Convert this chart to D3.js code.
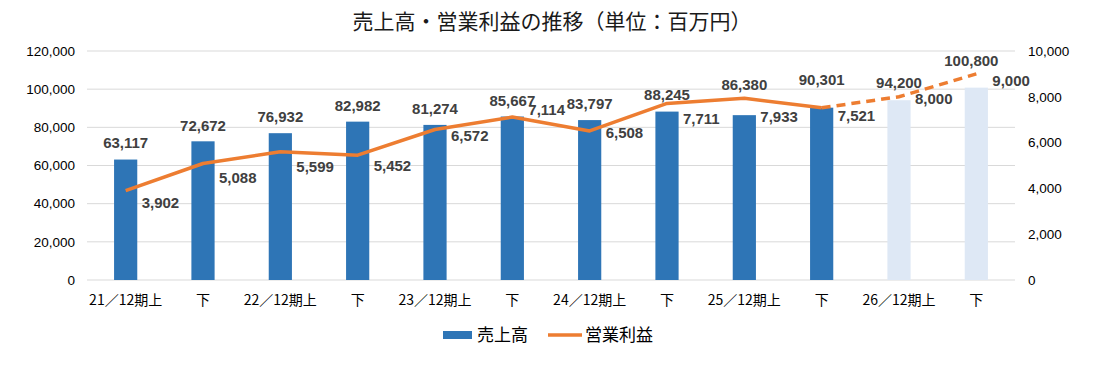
<!DOCTYPE html>
<html>
  <head>
    <meta charset="utf-8">
    <title>売上高・営業利益の推移</title>
    <script src="https://d3js.org/d3.v7.min.js"></script>
    <style>
      body { margin: 0; background: #fff; }
      text { font-family: "Liberation Sans", Arial, "Noto Sans CJK JP", sans-serif; }
      .cjk { font-family: "Noto Sans CJK JP", sans-serif; }
      .tick text { font-size: 13.5px; fill: #000; }
      .bar-label, .line-label { font-size: 15px; font-weight: bold; fill: #404040; }
    </style>
  </head>
  <body>
    <div id="chart"></div>
    <script>
      // Data
      const periods = ["21／12期上", "下", "22／12期上", "下", "23／12期上", "下",
                       "24／12期上", "下", "25／12期上", "下", "26／12期上", "下"];
      const sales = [63117, 72672, 76932, 82982, 81274, 85667, 83797, 88245, 86380, 90301, 94200, 100800];
      const profit = [3902, 5088, 5599, 5452, 6572, 7114, 6508, 7711, 7933, 7521, 8000, 9000];
      const isForecast = [false, false, false, false, false, false, false, false, false, false, true, true];
      const salesTicks = [0, 20000, 40000, 60000, 80000, 100000, 120000];
      const profitTicks = [0, 2000, 4000, 6000, 8000, 10000];

      // hand-placed label nudges (pixels), as in the original workbook
      const barLabelDy = [-17, -16, -16, -16, -16, -16, -16, -17, -30, -28, -17, -27];
      const barLabelDx = [0, 0, 0, 0, 0, 0, 0, 0, 0, 0, 0, -5];
      const profitLabelDy = [12, 14, 15, 11, 6, -7, 2, 15, 18, 8, 2, 7];

      const rows = periods.map((p, i) => ({
        key: i, period: p, sales: sales[i], profit: profit[i], forecast: isForecast[i]
      }));

      const W = 1093, H = 369;
      const margin = { top: 51, right: 78, bottom: 89, left: 87 };
      const width = W - margin.left - margin.right;
      const height = H - margin.top - margin.bottom;

      const svg = d3.select("#chart").append("svg")
        .attr("width", W).attr("height", H);

      // Title
      svg.append("text")
        .attr("class", "cjk")
        .attr("x", 552).attr("y", 29)
        .attr("text-anchor", "middle")
        .style("font-size", "21px")
        .style("fill", "#1a1a1a")
        .text("売上高・営業利益の推移（単位：百万円）");

      const g = svg.append("g").attr("transform", `translate(${margin.left},${margin.top})`);

      const x = d3.scaleBand().domain(rows.map(d => d.key)).range([0, width])
        .paddingInner(0.7).paddingOuter(0.35);
      const xc = d => x(d.key) + x.bandwidth() / 2;
      const yL = d3.scaleLinear().domain([0, 120000]).range([height, 0]);
      const yR = d3.scaleLinear().domain([0, 10000]).range([height, 0]);
      const fmt = d3.format(",");

      // Gridlines
      g.append("g")
        .selectAll("line")
        .data(salesTicks)
        .join("line")
        .attr("x1", 0).attr("x2", width)
        .attr("y1", d => yL(d)).attr("y2", d => yL(d))
        .attr("stroke", "#d9d9d9").attr("stroke-width", 1);

      // Left axis
      const axL = g.append("g")
        .call(d3.axisLeft(yL).tickValues(salesTicks).tickFormat(fmt).tickSize(0).tickPadding(12));
      axL.select(".domain").remove();

      // Right axis
      const axR = g.append("g")
        .attr("transform", `translate(${width},0)`)
        .call(d3.axisRight(yR).tickValues(profitTicks).tickFormat(fmt).tickSize(0).tickPadding(13));
      axR.select(".domain").remove();

      // Bottom axis
      const axB = g.append("g")
        .attr("transform", `translate(0,${height})`)
        .call(d3.axisBottom(x).tickFormat(k => periods[k]).tickSize(0).tickPadding(15));
      axB.select(".domain").remove();
      axB.selectAll("text").attr("class", "cjk").style("font-size", "14px").style("fill", "#000");

      // Bars
      g.append("g")
        .selectAll("rect")
        .data(rows)
        .join("rect")
        .attr("x", d => x(d.key))
        .attr("y", d => yL(d.sales))
        .attr("width", x.bandwidth())
        .attr("height", d => height - yL(d.sales))
        .attr("fill", d => d.forecast ? "#dee8f5" : "#2e75b6");

      // Profit line: solid for actuals, dashed for forecast
      const line = d3.line().x(xc).y(d => yR(d.profit));
      const lastActual = isForecast.indexOf(true) - 1;
      g.append("path")
        .datum(rows.slice(0, lastActual + 1))
        .attr("d", line)
        .attr("fill", "none")
        .attr("stroke", "#ed7d31")
        .attr("stroke-width", 3.5)
        .attr("stroke-linejoin", "round");
      g.append("path")
        .datum(rows.slice(lastActual))
        .attr("d", line)
        .attr("fill", "none")
        .attr("stroke", "#ed7d31")
        .attr("stroke-width", 3.5)
        .attr("stroke-dasharray", "9,6");

      // Bar labels
      g.append("g")
        .selectAll("text")
        .data(rows)
        .join("text")
        .attr("class", "bar-label")
        .attr("x", (d, i) => xc(d) + barLabelDx[i])
        .attr("y", (d, i) => yL(d.sales) + barLabelDy[i])
        .attr("dy", "0.35em")
        .attr("text-anchor", "middle")
        .text(d => fmt(d.sales));

      // Profit labels
      g.append("g")
        .selectAll("text")
        .data(rows)
        .join("text")
        .attr("class", "line-label")
        .attr("x", d => xc(d) + 16)
        .attr("y", (d, i) => yR(d.profit) + profitLabelDy[i])
        .attr("dy", "0.35em")
        .text(d => fmt(d.profit));

      // Legend
      const lg = svg.append("g").attr("transform", "translate(443,335)");
      lg.append("rect").attr("x", 0).attr("y", -4).attr("width", 29).attr("height", 8).attr("fill", "#2e75b6");
      lg.append("text").attr("class", "cjk").attr("x", 34).attr("y", 0).attr("dy", "0.35em")
        .style("font-size", "17px").style("fill", "#000").text("売上高");
      lg.append("line").attr("x1", 105).attr("x2", 139).attr("y1", 0).attr("y2", 0)
        .attr("stroke", "#ed7d31").attr("stroke-width", 3.5);
      lg.append("text").attr("class", "cjk").attr("x", 142).attr("y", 0).attr("dy", "0.35em")
        .style("font-size", "17px").style("fill", "#000").text("営業利益");
    </script>
  </body>
</html>
